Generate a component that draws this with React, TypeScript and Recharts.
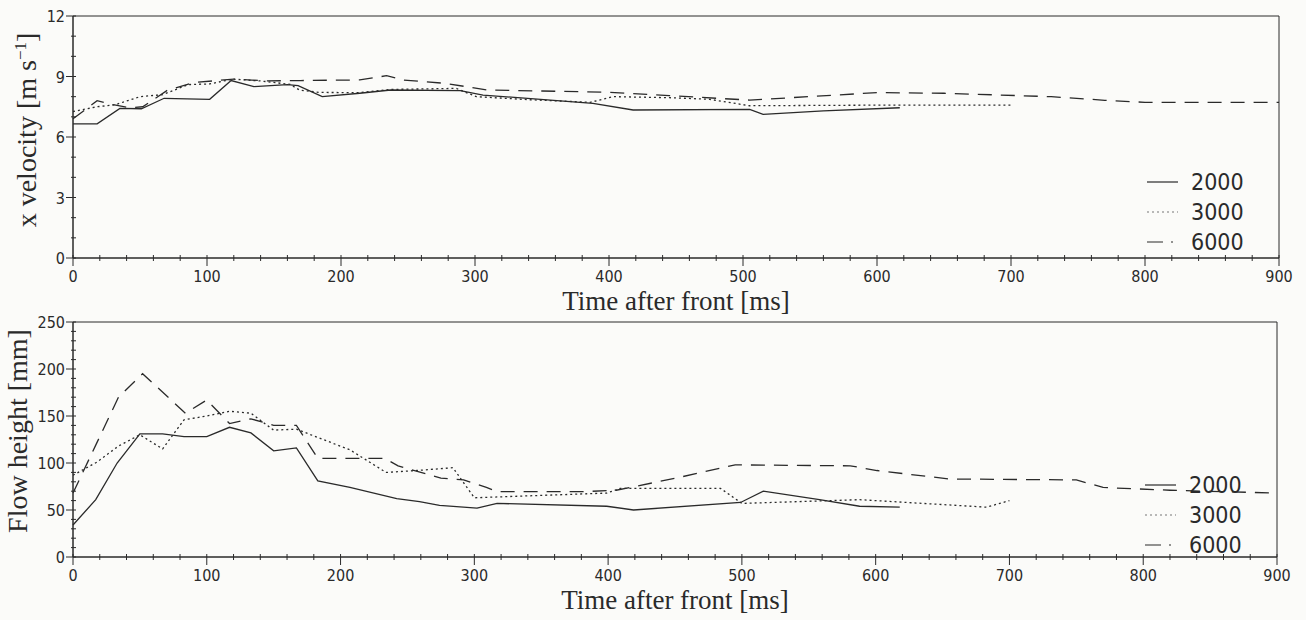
import React from "react";
import { LineChart, Line, XAxis, YAxis, ReferenceArea, Legend, Label } from "recharts";

// time after front [ms] / x velocity [m s-1]
const velTime2000 = [0, 18, 35, 51, 68, 102, 118, 135, 160, 168, 186, 214, 237, 289, 306, 388, 418, 505, 515, 560, 617];
const vel2000 = [6.65, 6.65, 7.42, 7.4, 7.92, 7.87, 8.8, 8.5, 8.6, 8.55, 8.0, 8.17, 8.33, 8.3, 8.08, 7.67, 7.34, 7.37, 7.12, 7.3, 7.45];

const velTime3000 = [0, 18, 31, 50, 67, 86, 102, 119, 140, 162, 169, 184, 214, 237, 286, 301, 340, 386, 403, 445, 475, 505, 600, 701];
const vel3000 = [7.26, 7.5, 7.59, 8.0, 8.1, 8.6, 8.63, 8.87, 8.78, 8.61, 8.33, 8.21, 8.2, 8.36, 8.41, 8.0, 7.85, 7.72, 8.0, 7.95, 7.87, 7.55, 7.58, 7.58];

const velTime6000 = [0, 18, 30, 42, 52, 70, 90, 120, 145, 170, 214, 234, 246, 278, 309, 350, 400, 445, 505, 600, 650, 730, 770, 800, 900];
const vel6000 = [6.9, 7.8, 7.6, 7.45, 7.5, 8.3, 8.7, 8.87, 8.78, 8.8, 8.83, 9.04, 8.83, 8.66, 8.33, 8.28, 8.22, 8.05, 7.83, 8.2, 8.17, 8.0, 7.82, 7.72, 7.72];

// time after front [ms] / flow height [mm], lower panel
const hTime2000 = [0, 17, 33, 50, 67, 83, 100, 117, 133, 150, 167, 183, 207, 242, 259, 274, 302, 317, 399, 419, 499, 516, 558, 588, 618];
const h2000 = [34, 61, 100, 131, 131, 128, 128, 138, 132, 113, 116, 81, 74, 62, 59, 55, 52, 57, 54, 50, 58, 70, 61, 54, 53];

const hTime3000 = [0, 18, 34, 50, 67, 83, 100, 117, 133, 150, 167, 207, 234, 257, 284, 300, 399, 409, 484, 500, 588, 683, 700];
const h3000 = [87, 101, 118, 130, 115, 146, 150, 155, 153, 135, 136, 114, 90, 92, 95, 63, 68, 73, 73, 57, 61, 53, 60];

const hTime6000 = [0, 17, 34, 52, 84, 100, 117, 133, 150, 167, 183, 233, 243, 275, 292, 309, 317, 381, 406, 451, 495, 581, 601, 655, 750, 770, 820, 900];
const h6000 = [68, 119, 170, 195, 153, 167, 142, 147, 140, 140, 105, 105, 97, 84, 82, 74, 69.5, 69.5, 71, 84, 98, 97, 92, 83, 82, 74, 71, 68];

const seriesNames = ["2000", "3000", "6000"];
const timeLabels = [0, 100, 200, 300, 400, 500, 600, 700, 800, 900];
const velLabels = [0, 3, 6, 9, 12];
const heightLabels = [0, 50, 100, 150, 200, 250];

const INK = "#2a2a2a";
const NARROW = '"Liberation Sans Narrow", "DejaVu Sans Condensed", "Roboto Condensed", sans-serif';
const SERIF = '"Liberation Serif", "DejaVu Serif", serif';
const dashes: { [k: string]: string | undefined } = { "2000": undefined, "3000": "2 3", "6000": "14 9" };

const zip = (ts: number[], vs: number[]) => ts.map((t, i) => ({ t, v: vs[i] }));

// minor ticks fill in between the labelled ones
const withMinor = (labels: number[], step: number) => {
  const out: number[] = [];
  for (let v = labels[0]; v <= labels[labels.length - 1] + 1e-9; v += step) out.push(Math.round(v * 1000) / 1000);
  return out;
};

const XTick = (props: any) => {
  const { x, y, payload } = props;
  const major = timeLabels.includes(payload.value);
  return (
    <g>
      <line x1={x} x2={x} y1={y - 3} y2={major ? y + 8 : y + 3} stroke={INK} strokeWidth={1} />
      {major && (
        <text x={x} y={y + 24} textAnchor="middle" fontSize={16} fontFamily={NARROW} fill={INK}>
          {payload.value}
        </text>
      )}
    </g>
  );
};

const makeYTick = (labels: number[]) => (props: any) => {
  const { x, y, payload } = props;
  const major = labels.includes(payload.value);
  return (
    <g>
      <line x1={major ? x - 7 : x - 2} x2={x + 3} y1={y} y2={y} stroke={INK} strokeWidth={1} />
      {major && (
        <text x={x - 8} y={y + 6} textAnchor="end" fontSize={16} fontFamily={NARROW} fill={INK}>
          {payload.value}
        </text>
      )}
    </g>
  );
};

const renderLegend = () => (
  <div style={{ fontFamily: NARROW, fontSize: 23, color: INK, lineHeight: "30px" }}>
    {seriesNames.map((name) => (
      <div key={name} style={{ display: "flex", alignItems: "center", height: 30 }}>
        <svg width={46} height={30}>
          <line
            x1={2}
            x2={33}
            y1={15}
            y2={15}
            stroke={name === "3000" ? "#777" : INK}
            strokeWidth={1.2}
            strokeDasharray={name === "6000" ? "16 8 2 20" : dashes[name]}
          />
        </svg>
        <span>{name}</span>
      </div>
    ))}
  </div>
);

const timeTitle = (props: any) => {
  const vb = props.viewBox;
  return (
    <text x={vb.x + vb.width / 2} y={vb.y + 52} textAnchor="middle" fontSize={27} fontFamily={SERIF} fill={INK}>
      Time after front [ms]
    </text>
  );
};

export default function App() {
  const vel = [zip(velTime2000, vel2000), zip(velTime3000, vel3000), zip(velTime6000, vel6000)];
  const height = [zip(hTime2000, h2000), zip(hTime3000, h3000), zip(hTime6000, h6000)];
  const timeTicks = withMinor(timeLabels, 20);

  return (
    <div style={{ position: "absolute", left: 0, top: 0, width: 1306, height: 620, background: "#fbfbf9" }}>
      <div style={{ position: "absolute", left: 0, top: 0 }}>
        <LineChart width={1306} height={318} margin={{ top: 16, right: 27, left: 0, bottom: 0 }}>
          <XAxis
            dataKey="t"
            type="number"
            domain={[0, 900]}
            ticks={timeTicks}
            interval={0}
            height={60}
            tickSize={0}
            tickMargin={0}
            tickLine={false}
            tick={<XTick />}
            stroke={INK}
          >
            <Label content={timeTitle} />
          </XAxis>
          <YAxis
            type="number"
            domain={[0, 12]}
            ticks={withMinor(velLabels, 1)}
            interval={0}
            width={73}
            tickSize={0}
            tickMargin={0}
            tickLine={false}
            tick={makeYTick(velLabels)}
            stroke={INK}
          >
            <Label
              content={() => (
                <text transform="rotate(-90 36 130)" x={36} y={130} textAnchor="middle" fontSize={28} fontFamily={SERIF} fill={INK}>
                  <tspan>x velocity [m s</tspan>
                  <tspan dy={-10} fontSize={17}>−1</tspan>
                  <tspan dy={10}>]</tspan>
                </text>
              )}
            />
          </YAxis>
          <ReferenceArea x1={0} x2={900} y1={0} y2={12} fill="none" stroke={INK} strokeWidth={1} />
          {seriesNames.map((name, i) => (
            <Line
              key={name}
              name={name}
              data={vel[i]}
              dataKey="v"
              type="linear"
              stroke={INK}
              strokeWidth={1.3}
              strokeDasharray={dashes[name]}
              dot={false}
              isAnimationActive={false}
            />
          ))}
          <Legend
            layout="vertical"
            align="center"
            verticalAlign="middle"
            content={renderLegend}
            wrapperStyle={{ left: 1145, top: 167, width: "auto" }}
          />
        </LineChart>
      </div>

      <div style={{ position: "absolute", left: 0, top: 312 }}>
        <LineChart width={1306} height={308} margin={{ top: 10, right: 29, left: 0, bottom: 0 }}>
          <XAxis
            dataKey="t"
            type="number"
            domain={[0, 900]}
            ticks={timeTicks}
            interval={0}
            height={63}
            tickSize={0}
            tickMargin={0}
            tickLine={false}
            tick={<XTick />}
            stroke={INK}
          >
            <Label content={timeTitle} />
          </XAxis>
          <YAxis
            type="number"
            domain={[0, 250]}
            ticks={withMinor(heightLabels, 10)}
            interval={0}
            width={73}
            tickSize={0}
            tickMargin={0}
            tickLine={false}
            tick={makeYTick(heightLabels)}
            stroke={INK}
          >
            <Label
              content={() => (
                <text transform="rotate(-90 27 119)" x={27} y={119} textAnchor="middle" fontSize={28} fontFamily={SERIF} fill={INK}>
                  Flow height [mm]
                </text>
              )}
            />
          </YAxis>
          <ReferenceArea x1={0} x2={900} y1={0} y2={250} fill="none" stroke={INK} strokeWidth={1} />
          {seriesNames.map((name, i) => (
            <Line
              key={name}
              name={name}
              data={height[i]}
              dataKey="v"
              type="linear"
              stroke={INK}
              strokeWidth={1.3}
              strokeDasharray={dashes[name]}
              dot={false}
              isAnimationActive={false}
            />
          ))}
          <Legend
            layout="vertical"
            align="center"
            verticalAlign="middle"
            content={renderLegend}
            wrapperStyle={{ left: 1143, top: 158, width: "auto" }}
          />
        </LineChart>
      </div>
    </div>
  );
}
